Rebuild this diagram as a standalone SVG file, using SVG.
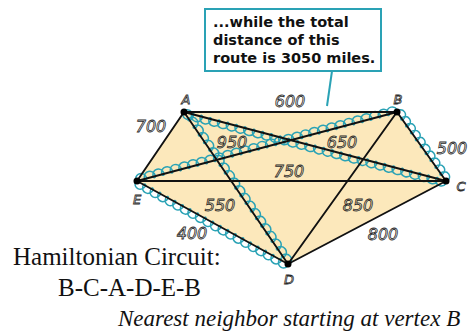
<svg xmlns="http://www.w3.org/2000/svg" xmlns:xlink="http://www.w3.org/1999/xlink" width="470" height="335" viewBox="0 0 470 335">
<style>
.edge{stroke:#111;stroke-width:1.9;stroke-linecap:round}
.wave{fill:none;stroke:#2aa2b5;stroke-width:1.5}
.num{font-family:"DejaVu Sans",sans-serif;font-size:16px;font-style:italic;fill:none;stroke:#2a2a2a;stroke-width:0.8;text-anchor:middle}
.vl{font-family:"DejaVu Sans",sans-serif;font-size:13px;font-style:italic;fill:none;stroke:#2a2a2a;stroke-width:0.8;text-anchor:middle}
.dot{fill:#000}
.call{font-family:"DejaVu Sans",sans-serif;font-weight:bold;font-size:14.5px;fill:#111}
.big{font-family:"Liberation Serif","Times New Roman",serif;font-size:25px;fill:#111}
.cap{font-family:"Liberation Serif","Times New Roman",serif;font-size:23px;font-style:italic;fill:#111}
</style>
<defs>
<path id="w5" class="wave" d="M0.75,-2.5 c1.91,5 -3.41,5 -1.5,0 1.9,-5 8.6,-5 10.5,0 1.91,5 -3.41,5 -1.5,0 1.9,-5 8.6,-5 10.5,0 1.91,5 -3.41,5 -1.5,0 1.9,-5 8.6,-5 10.5,0 1.91,5 -3.41,5 -1.5,0 1.9,-5 8.6,-5 10.5,0 1.91,5 -3.41,5 -1.5,0 1.9,-5 8.6,-5 10.5,0"/>
</defs>
<polygon points="184,112 397,112 446,181 288,264 137,181" fill="#fce8bb"/>
<g id="connectors">
<g transform="translate(397,112) rotate(54.62) scale(0.94,1)"><use xlink:href="#w5"/><use xlink:href="#w5" x="45"/></g>
<g transform="translate(184,112) rotate(14.75) scale(1.003,-1)"><use xlink:href="#w5"/><use xlink:href="#w5" x="45"/><use xlink:href="#w5" x="90"/><use xlink:href="#w5" x="135"/><use xlink:href="#w5" x="180"/><use xlink:href="#w5" x="225"/></g>
<g transform="translate(184,112) rotate(55.62) scale(1.023,1)"><use xlink:href="#w5"/><use xlink:href="#w5" x="45"/><use xlink:href="#w5" x="90"/><use xlink:href="#w5" x="135"/></g>
<g transform="translate(137,181) rotate(28.8) scale(0.957,-1)"><use xlink:href="#w5"/><use xlink:href="#w5" x="45"/><use xlink:href="#w5" x="90"/><use xlink:href="#w5" x="135"/></g>
<g transform="translate(137,181) rotate(-14.86) scale(0.996,1)"><use xlink:href="#w5"/><use xlink:href="#w5" x="45"/><use xlink:href="#w5" x="90"/><use xlink:href="#w5" x="135"/><use xlink:href="#w5" x="180"/><use xlink:href="#w5" x="225"/></g>
<line class="edge" x1="184" y1="112" x2="397" y2="112"/>
<line class="edge" x1="184" y1="112" x2="137" y2="181"/>
<line class="edge" x1="184" y1="112" x2="446" y2="181"/>
<line class="edge" x1="184" y1="112" x2="288" y2="264"/>
<line class="edge" x1="397" y1="112" x2="137" y2="181"/>
<line class="edge" x1="397" y1="112" x2="446" y2="181"/>
<line class="edge" x1="397" y1="112" x2="288" y2="264"/>
<line class="edge" x1="137" y1="181" x2="446" y2="181"/>
<line class="edge" x1="137" y1="181" x2="288" y2="264"/>
<line class="edge" x1="446" y1="181" x2="288" y2="264"/>
<text class="num" x="290" y="107">600</text>
<text class="num" x="151" y="132">700</text>
<text class="num" x="232" y="148">950</text>
<text class="num" x="342" y="148">650</text>
<text class="num" x="452" y="154">500</text>
<text class="num" x="289" y="177">750</text>
<text class="num" x="220" y="211">550</text>
<text class="num" x="358" y="211">850</text>
<text class="num" x="192" y="239">400</text>
<text class="num" x="383" y="240">800</text>
</g>
<g id="node-A"><circle class="dot" cx="184" cy="112" r="3.5"/><text class="vl" x="186" y="104">A</text></g>
<g id="node-B"><circle class="dot" cx="397" cy="112" r="3.5"/><text class="vl" x="398" y="104">B</text></g>
<g id="node-C"><circle class="dot" cx="446" cy="181" r="3.5"/><text class="vl" x="461" y="191">C</text></g>
<g id="node-D"><circle class="dot" cx="288" cy="264" r="3.5"/><text class="vl" x="289" y="284">D</text></g>
<g id="node-E"><circle class="dot" cx="137" cy="181" r="3.5"/><text class="vl" x="137" y="204">E</text></g>
<g id="callout">
<line x1="332" y1="71" x2="327" y2="106" stroke="#2aa2b5" stroke-width="2"/>
<rect x="205" y="9" width="176" height="62" fill="#fff" stroke="#2aa2b5" stroke-width="2"/>
<text class="call" x="213" y="27">...while the total</text>
<text class="call" x="213" y="45">distance  of this</text>
<text class="call" x="213" y="63">route is 3050 miles.</text>
</g>
<g id="caption">
<text class="big" x="13" y="265">Hamiltonian Circuit:</text>
<text class="big" x="58" y="296">B-C-A-D-E-B</text>
<text class="cap" x="118" y="326">Nearest neighbor starting at vertex B</text>
</g>
</svg>
